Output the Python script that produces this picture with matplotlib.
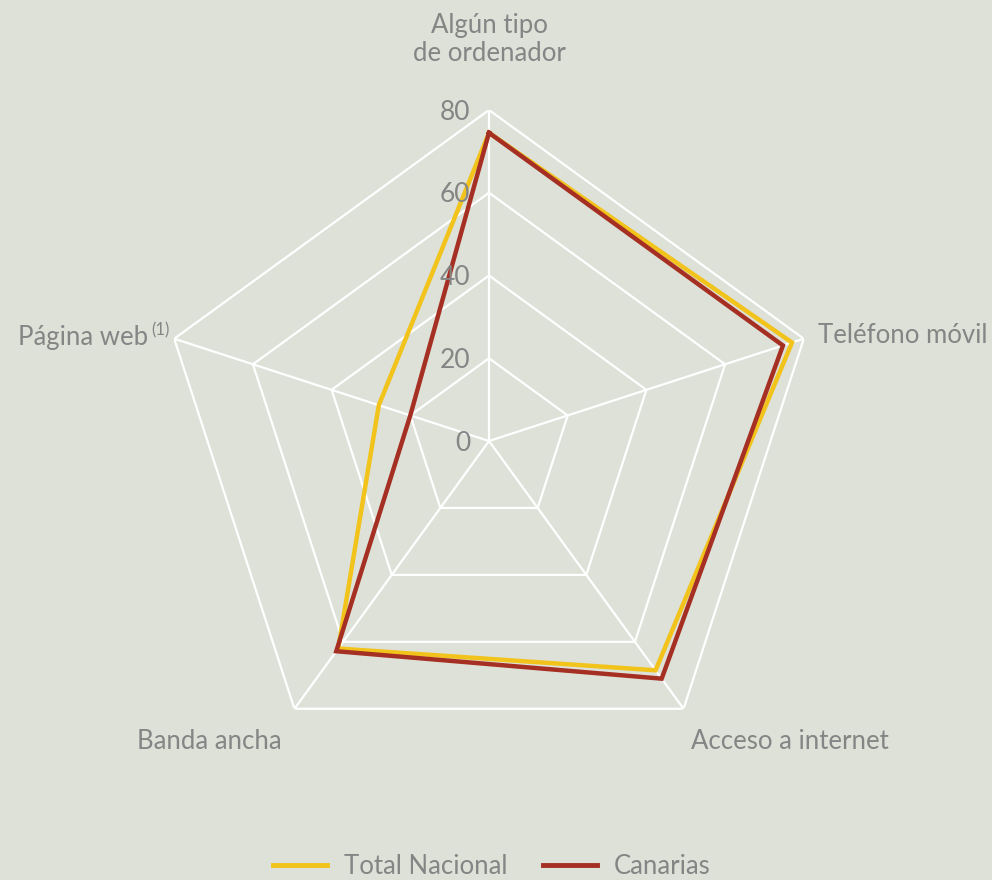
import numpy as np
import matplotlib
matplotlib.use("Agg")
import matplotlib.pyplot as plt

categories = ["Algún tipo\nde ordenador", "Teléfono móvil", "Acceso a internet", "Banda ancha", "Página web"]
total_nacional = [74.5, 77.0, 68.5, 62.0, 28.0]
canarias = [74.5, 74.7, 71.0, 62.8, 20.0]
ticks = [0, 20, 40, 60, 80]
series_names = ["Total Nacional", "Canarias"]

BG = "#dde1d8"
GRAY = "#858585"
YEL = "#f2c31b"
RED = "#a52f22"
FONT = ["Lato", "DejaVu Sans"]
plt.rcParams['font.family'] = FONT

fig = plt.figure(figsize=(9.92, 8.8), dpi=100, facecolor=BG)
cx, cy, R = 489 / 992, (880 - 441) / 880, 331
ax = fig.add_axes([cx - R / 992, cy - R / 880, 2 * R / 992, 2 * R / 880], projection='polar')
ax.set_facecolor(BG)
ax.patch.set_alpha(0)
ax.set_theta_zero_location('N')
ax.set_theta_direction(-1)
ax.set_ylim(0, 80)
ax.grid(False)
ax.spines['polar'].set_visible(False)
ax.set_xticks([])
ax.set_yticks([])

n = len(categories)
theta = np.linspace(0, 2 * np.pi, n, endpoint=False)
tc = np.append(theta, theta[0])

for t in ticks[1:]:
    ax.plot(tc, [t] * (n + 1), color='white', lw=1.6, zorder=1)
for th in theta:
    ax.plot([th, th], [0, 80], color='white', lw=1.6, zorder=1)

ax.plot(tc, total_nacional + total_nacional[:1], color=YEL, lw=3.2, zorder=3, solid_joinstyle='miter')
ax.plot(tc, canarias + canarias[:1], color=RED, lw=3.2, zorder=4, solid_joinstyle='miter')

for t in ticks:
    ax.annotate(str(t), xy=(0, t), xytext=(-19, -2), textcoords='offset pixels',
                ha='right', va='center', fontsize=19, color=GRAY, zorder=5)

fs = 18.5
ax.annotate(categories[0], xy=(theta[0], 80), xytext=(0, 44), textcoords='offset pixels',
            ha='center', va='bottom', fontsize=fs, color=GRAY, linespacing=1.15, annotation_clip=False)
ax.annotate(categories[1], xy=(theta[1], 80), xytext=(14, 3), textcoords='offset pixels',
            ha='left', va='center', fontsize=fs, color=GRAY, annotation_clip=False)
ax.annotate(categories[2], xy=(theta[2], 80), xytext=(106, -33), textcoords='offset pixels',
            ha='center', va='center', fontsize=fs, color=GRAY, annotation_clip=False)
ax.annotate(categories[3], xy=(theta[3], 80), xytext=(-13, -33), textcoords='offset pixels',
            ha='right', va='center', fontsize=fs, color=GRAY, annotation_clip=False)
ax.annotate(categories[4], xy=(theta[4], 80), xytext=(-26, 1), textcoords='offset pixels',
            ha='right', va='center', fontsize=fs, color=GRAY, annotation_clip=False)
ax.annotate("(1)", xy=(theta[4], 80), xytext=(-5, 8), textcoords='offset pixels',
            ha='right', va='center', fontsize=12, color=GRAY, annotation_clip=False)

# legend
from matplotlib.lines import Line2D
handles = [Line2D([], [], color=YEL, lw=3.5), Line2D([], [], color=RED, lw=3.5)]
leg = fig.legend(handles, series_names, loc='center', bbox_to_anchor=(0.496, 1 - 866 / 880),
                 ncol=2, frameon=False, fontsize=18.5, labelcolor=GRAY,
                 handlelength=2.1, handletextpad=0.65, columnspacing=1.4)

fig.savefig("out.png", dpi=100, facecolor=BG)
